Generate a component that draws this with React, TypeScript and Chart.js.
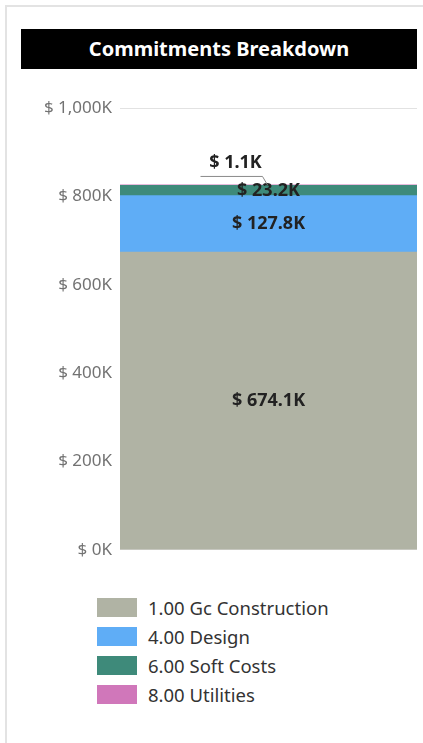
import React, { useEffect, useRef } from "react";
import { Chart, registerables } from "chart.js";

Chart.register(...registerables);

const categories = ["Commitments"];
const seriesNames = ["1.00 Gc Construction", "4.00 Design", "6.00 Soft Costs", "8.00 Utilities"];
const seriesValues = [674.1, 127.8, 23.2, 1.1];
const seriesColors = ["#B0B3A4", "#5FADF6", "#3E8A7A", "#D077BA"];
const yTicks = [0, 200, 400, 600, 800, 1000];

const FONT = "'Noto Sans', 'Open Sans', sans-serif";

function fmtTick(v: number) {
  return "$ " + v.toLocaleString("en-US") + "K";
}

const labelPlugin = {
  id: "segLabels",
  afterDatasetsDraw(chart: any) {
    const ctx = chart.ctx;
    ctx.save();
    ctx.font = `bold 18px ${FONT}`;
    ctx.fillStyle = "#222";
    ctx.textAlign = "center";
    ctx.textBaseline = "middle";
    chart.data.datasets.forEach((ds: any, i: number) => {
      const meta = chart.getDatasetMeta(i);
      const el: any = meta.data[0];
      if (!el) return;
      const v = ds.data[0];
      const text = "$ " + v.toFixed(1) + "K";
      const top = Math.min(el.y, el.base);
      const bottom = Math.max(el.y, el.base);
      if (bottom - top < 6) {
        // small segment: label outside with leader line
        const lx = el.x - 33;
        const ly = top - 22;
        ctx.fillText(text, lx, ly);
        ctx.strokeStyle = "#8a8a8a";
        ctx.lineWidth = 1;
        ctx.beginPath();
        ctx.moveTo(el.x - 68, top - 8.5);
        ctx.lineTo(el.x - 6, top - 8.5);
        ctx.lineTo(el.x - 1, top);
        ctx.stroke();
      } else {
        ctx.fillText(text, el.x, (top + bottom) / 2);
      }
    });
    ctx.restore();
  },
};

function ChartCanvas() {
  const ref = useRef<HTMLCanvasElement>(null);
  useEffect(() => {
    if (!ref.current) return;
    const chart = new Chart(ref.current, {
      type: "bar",
      data: {
        labels: categories,
        datasets: seriesNames.map((name, i) => ({
          label: name,
          data: [seriesValues[i]],
          backgroundColor: seriesColors[i],
          borderWidth: 0,
          categoryPercentage: 1,
          barPercentage: 1,
        })),
      },
      options: {
        animation: false,
        responsive: false,
        maintainAspectRatio: false,
        layout: { padding: { top: 14, bottom: 4, left: 0, right: 6 } },
        plugins: {
          legend: { display: false },
          tooltip: { enabled: false },
          title: { display: false },
        },
        scales: {
          x: {
            stacked: true,
            display: false,
          },
          y: {
            stacked: true,
            min: 0,
            max: 1000,
            afterFit: (s: any) => {
              s.width = 120;
            },
            afterBuildTicks: (s: any) => {
              s.ticks = yTicks.map((v) => ({ value: v }));
            },
            border: { display: false },
            grid: { color: "#e2e2e2", drawTicks: false, lineWidth: 1 },
            ticks: {
              padding: 8,
              color: "#727272",
              font: { family: FONT, size: 17 },
              callback: (v: any) => fmtTick(Number(v)),
            },
          },
        },
      },
      plugins: [labelPlugin],
    });
    return () => chart.destroy();
  }, []);
  return (
    <canvas
      ref={ref}
      width={423}
      height={478}
      style={{ position: "absolute", left: 0, top: 90, width: 423, height: 478 }}
    />
  );
}

export default function App() {
  return (
    <div style={{ position: "absolute", left: 0, top: 0, width: 423, height: 743, overflow: "hidden", background: "#fff" }}>
      <div
        style={{
          position: "absolute",
          left: 5,
          top: 5,
          width: 500,
          height: 800,
          borderLeft: "2px solid #e3e3e3",
          borderTop: "2px solid #e3e3e3",
          boxSizing: "border-box",
        }}
      />
      <div
        style={{
          position: "absolute",
          left: 21,
          top: 29,
          width: 396,
          height: 40,
          background: "#000",
          color: "#fff",
          fontFamily: FONT,
          fontWeight: 700,
          fontSize: 20,
          lineHeight: "40px",
          textAlign: "center",
        }}
      >
        Commitments Breakdown
      </div>
      <ChartCanvas />
      {seriesNames.map((name, i) => (
        <div
          key={name}
          style={{ position: "absolute", left: 97, top: 598 + i * 29, height: 19, display: "flex", alignItems: "center" }}
        >
          <div style={{ width: 40, height: 19, background: seriesColors[i] }} />
          <span
            style={{
              marginLeft: 11,
              fontFamily: FONT,
              fontSize: 18.5,
              color: "#333",
              whiteSpace: "nowrap",
              lineHeight: "19px",
            }}
          >
            {name}
          </span>
        </div>
      ))}
    </div>
  );
}
